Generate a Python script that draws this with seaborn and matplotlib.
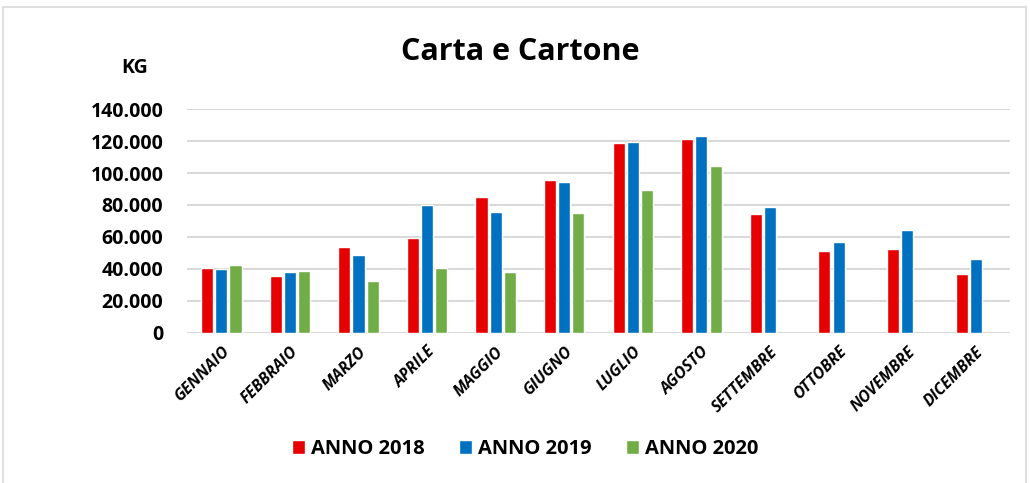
import pandas as pd
import seaborn as sns
import matplotlib.pyplot as plt
from matplotlib.ticker import FuncFormatter
from matplotlib.patches import Rectangle

sns.set_style("white")
plt.rcParams['font.family'] = ['Open Sans', 'DejaVu Sans']
plt.rcParams['text.color'] = 'black'
plt.rcParams['xtick.color'] = 'black'
plt.rcParams['ytick.color'] = 'black'

# Data (kg per month)
mesi = ['GENNAIO', 'FEBBRAIO', 'MARZO', 'APRILE', 'MAGGIO', 'GIUGNO',
        'LUGLIO', 'AGOSTO', 'SETTEMBRE', 'OTTOBRE', 'NOVEMBRE', 'DICEMBRE']
anno_2018 = [40800, 35600, 53700, 59400, 85100, 95500, 118900, 121200, 74400, 51200, 52500, 37000]
anno_2019 = [39800, 38000, 48700, 79900, 75500, 94300, 119700, 122900, 78800, 57000, 64400, 46000]
anno_2020 = [42600, 38700, 32400, 40400, 38000, 75000, 89700, 104500, None, None, None, None]
serie = ['ANNO 2018', 'ANNO 2019', 'ANNO 2020']
colori = ['#E60000', '#0070C0', '#70AD47']

df = pd.DataFrame({
    'mese': mesi * 3,
    'kg': anno_2018 + anno_2019 + anno_2020,
    'anno': [s for s in serie for _ in mesi],
})

fig = plt.figure(figsize=(10.3, 4.83), dpi=100)
ax = fig.add_axes([0.1816, 0.311, 0.799, 0.463])

sns.barplot(data=df, x='mese', y='kg', hue='anno', palette=colori,
            saturation=1, width=0.62, gap=0.15, ax=ax, legend=True)

ax.set_ylim(0, 140000)
ax.set_yticks(range(0, 140001, 20000))
ax.yaxis.set_major_formatter(FuncFormatter(
    lambda v, p: '0' if v == 0 else f'{int(v):,}'.replace(',', '.')))
ax.grid(axis='y', color='#D9D9D9', lw=1.5)
ax.set_axisbelow(True)
for s in ax.spines.values():
    s.set_visible(False)
ax.tick_params(axis='both', length=0)
ax.tick_params(axis='y', pad=17)
ax.tick_params(axis='x', pad=8)
ax.set_xlabel('')
ax.set_ylabel('')
for t in ax.get_yticklabels():
    t.set_fontsize(14)
    t.set_fontweight('bold')
for t in ax.get_xticklabels():
    t.set_rotation(45)
    t.set_ha('right')
    t.set_rotation_mode('anchor')
    t.set_fontsize(11.5)
    t.set_fontweight('bold')
    t.set_fontstyle('italic')

handles, labels = ax.get_legend_handles_labels()
ax.legend(handles, labels, loc='center', bbox_to_anchor=(0.51, 0.07),
          bbox_transform=fig.transFigure, ncol=3, frameon=False,
          prop={'weight': 'bold', 'size': 14.5}, handlelength=0.65,
          handleheight=0.65, handletextpad=0.3, columnspacing=1.7)

fig.text(0.505, 0.893, 'Carta e Cartone', ha='center', va='center',
         fontsize=22, fontweight='bold')
fig.text(0.131, 0.86, 'KG', ha='center', va='center',
         fontsize=14, fontweight='bold')

fig.patches.append(Rectangle((0.003, -0.01), 0.993, 0.996, transform=fig.transFigure,
                             fill=False, edgecolor='#D9D9D9', lw=1.2))

fig.savefig('out.png', dpi=100)
